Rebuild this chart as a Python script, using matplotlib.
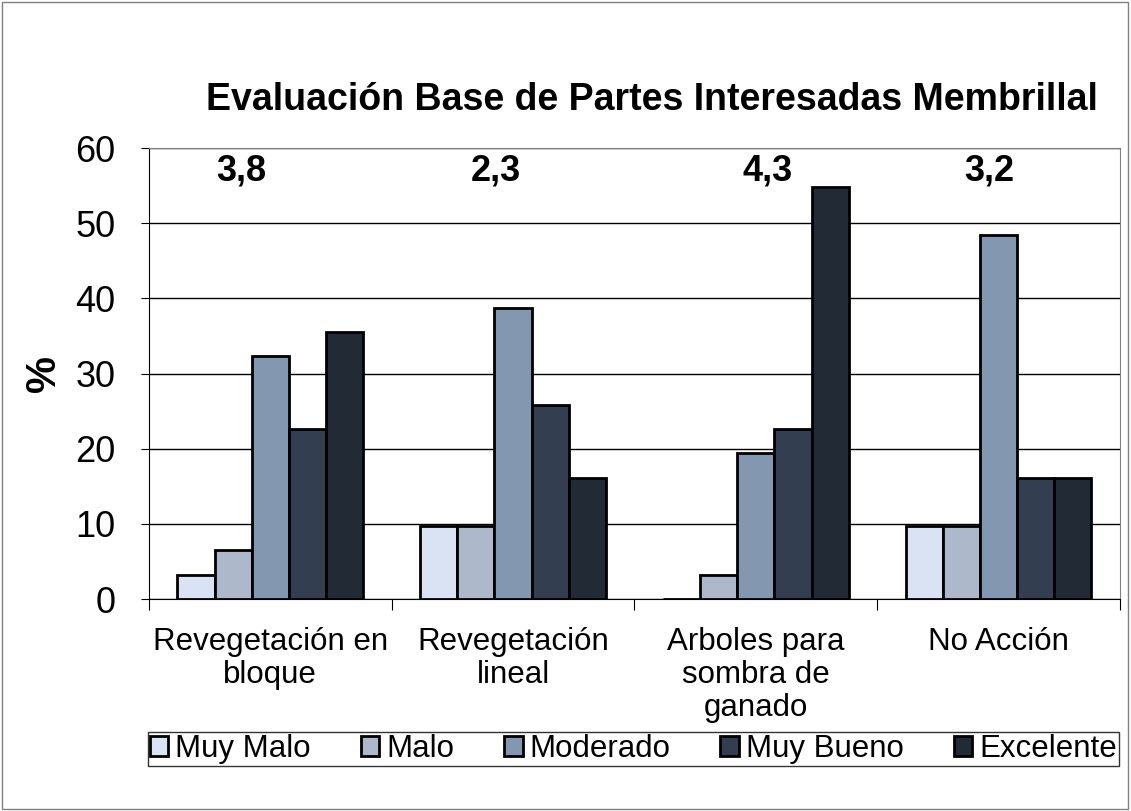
import numpy as np
import matplotlib
matplotlib.use("Agg")
import matplotlib.pyplot as plt
from matplotlib.patches import Rectangle

plt.rcParams['font.family'] = ['Liberation Sans', 'DejaVu Sans']

categories = ["Revegetación en\nbloque", "Revegetación\nlineal",
              "Arboles para\nsombra de\nganado", "No Acción"]
series = ["Muy Malo", "Malo", "Moderado", "Muy Bueno", "Excelente"]
muy_malo = [3.2, 9.7, 0.0, 9.7]
malo = [6.5, 9.7, 3.2, 9.7]
moderado = [32.3, 38.7, 19.4, 48.4]
muy_bueno = [22.6, 25.8, 22.6, 16.1]
excelente = [35.5, 16.1, 54.8, 16.1]
scores = ["3,8", "2,3", "4,3", "3,2"]
score_x = [-0.12, 0.93, 2.05, 2.96]

colors = ["#DAE3F3", "#ADB9CA", "#8497B0", "#333F50", "#222A35"]

fig = plt.figure(figsize=(11.31, 8.11), dpi=100)
ax = fig.add_axes([0.1317, 0.2614, 0.8585, 0.5561])

x = np.arange(len(categories))
w = 0.153
values = [muy_malo, malo, moderado, muy_bueno, excelente]
for i, (name, vals) in enumerate(zip(series, values)):
    ax.bar(x + (i - 2) * w, vals, w, color=colors[i], edgecolor="black",
           linewidth=2, label=name, zorder=3)

# average scores above each group
for sx, s in zip(score_x, scores):
    ax.text(sx, 57, s, ha="center", va="center", fontsize=26, fontweight="bold")

ax.set_xlim(-0.5, 3.5)
ax.set_ylim(0, 60)
ax.set_yticks(range(0, 61, 10))
ax.tick_params(axis="y", labelsize=26, length=6, direction="out", pad=18)
ax.set_xticks(np.arange(-0.5, 4, 1))
ax.set_xticklabels([])
ax.set_xticks(x, minor=True)
ax.set_xticklabels(categories, minor=True, fontsize=22.5, linespacing=1.14)
ax.tick_params(axis="x", which="minor", length=0, pad=20)
ax.tick_params(axis="x", which="major", length=8, direction="out")
ax.grid(axis="y", color="black", linewidth=1, zorder=0)
for side in ["top", "right"]:
    ax.spines[side].set_color("#808080")
ax.spines["left"].set_color("black")
ax.spines["bottom"].set_color("black")
ax.set_ylabel("%", fontsize=30, fontweight="bold", labelpad=8)

fig.text(0.576, 0.877, "Evaluación Base de Partes Interesadas Membrillal",
         ha="center", va="center", fontsize=27, fontweight="bold")

leg = fig.legend(loc="lower left", bbox_to_anchor=(0.131, 0.056, 0.858, 0.043),
                 mode="expand", ncol=5, fontsize=22.5, frameon=True,
                 fancybox=False, edgecolor="black", handlelength=0.6,
                 handleheight=0.6, handletextpad=0.22, borderpad=0.05,
                 borderaxespad=0, columnspacing=0.5)
leg.get_frame().set_linewidth(1)

fig.patches.append(Rectangle((0.002, 0.003), 0.995, 0.994, transform=fig.transFigure,
                             fill=False, edgecolor="#808080", linewidth=1))

fig.savefig("out.png", dpi=100)
